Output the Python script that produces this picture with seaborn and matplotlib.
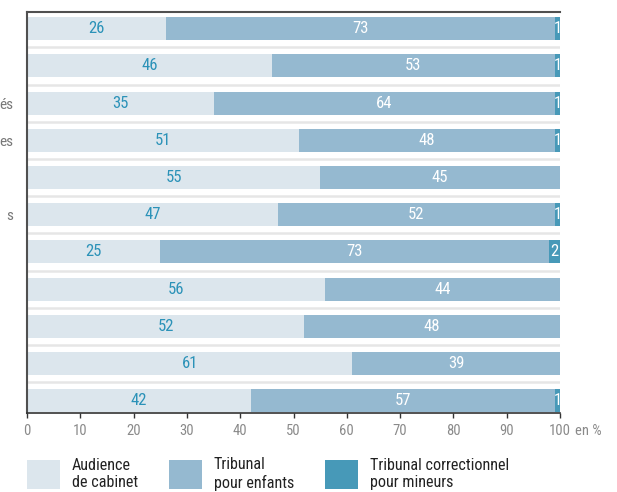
import matplotlib
matplotlib.use("Agg")
import matplotlib.pyplot as plt
from matplotlib.patches import Patch
import seaborn as sns
import pandas as pd

# One horizontal bar per row; only the tails of the row names fit on the page
row_ids = [f"r{i}" for i in range(1, 12)]
row_labels = ["", "", "és", "es", "", "s", "", "", "", "", ""]

# Share of each jurisdiction, in %
audience_cabinet = [26, 46, 35, 51, 55, 47, 25, 56, 52, 61, 42]
tribunal_enfants = [73, 53, 64, 48, 45, 52, 73, 44, 48, 39, 57]
tribunal_correctionnel = [1, 1, 1, 1, 0, 1, 2, 0, 0, 0, 1]

series_labels = ["Audience\nde cabinet", "Tribunal\npour enfants",
                 "Tribunal correctionnel\npour mineurs"]
series_colors = ["#dce6ed", "#95b9d0", "#4799b8"]
value_colors = ["#2b92b8", "#ffffff", "#ffffff"]
x_ticks = list(range(0, 101, 10))

sns.set_theme(style="white")
plt.rcParams["font.family"] = ["Roboto Condensed", "Roboto", "DejaVu Sans"]

df = pd.DataFrame({
    "ligne": row_ids,
    "cabinet": audience_cabinet,
    "enfants": tribunal_enfants,
    "correctionnel": tribunal_correctionnel,
})
df["cum1"] = df["cabinet"]
df["cum2"] = df["cabinet"] + df["enfants"]
df["cum3"] = df["cum2"] + df["correctionnel"]

fig = plt.figure(figsize=(6.17, 4.92), dpi=100)
ax = fig.add_axes([27 / 617, 1 - 413 / 492, 533 / 617, 401 / 492])

# Stacked bars: draw cumulative totals from the widest down
for col, color in zip(["cum3", "cum2", "cum1"], series_colors[::-1]):
    sns.barplot(data=df, x=col, y="ligne", color=color, saturation=1,
                width=0.62, linewidth=0, errorbar=None, ax=ax, zorder=2)

# Value labels centred in each segment
segments = ["cabinet", "enfants", "correctionnel"]
for i, row in df.iterrows():
    start = 0
    for seg, tcol in zip(segments, value_colors):
        v = row[seg]
        if v > 0:
            ax.text(start + v / 2, i, f"{v}", ha="center", va="center",
                    color=tcol, fontsize=12, zorder=3)
        start += v

# Thin separators between rows
for k in range(len(row_ids) - 1):
    ax.axhline(k + 0.5, color="#e6e6e6", lw=1.8, zorder=1)

ax.set_xlim(0, 100)
ax.set_ylim(len(row_ids) - 1 + 0.33, -0.45)
ax.set_xticks(x_ticks)
ax.set_xticklabels([str(t) for t in x_ticks])
ax.set_xlabel("")
ax.set_ylabel("")

ax.set_yticks(range(len(row_ids)))
ax.set_yticklabels(row_labels, ha="right", color="#777777", fontsize=11)
ax.tick_params(axis="y", left=False, length=0, pad=10)
ax.tick_params(axis="x", bottom=True, length=3.6, width=1, color="#333333",
               labelcolor="#8a8a8a", labelsize=10.5, pad=4)

for side in ["top", "left"]:
    ax.spines[side].set_color("#505050")
    ax.spines[side].set_linewidth(1.5)
ax.spines["bottom"].set_color("#333333")
ax.spines["bottom"].set_linewidth(1.2)
ax.spines["right"].set_visible(False)

ax.annotate("en %", xy=(1, 0), xycoords="axes fraction", xytext=(10.5, -7.6),
            textcoords="offset points", ha="left", va="top",
            color="#8a8a8a", fontsize=10.5)

handles = [Patch(facecolor=c, edgecolor="none", label=l)
           for c, l in zip(series_colors, series_labels)]
fig.legend(handles=handles, loc="upper left",
           bbox_to_anchor=(27 / 617, 1 - 457 / 492), ncol=3, frameon=False,
           fontsize=11.6, handlelength=2.05, handleheight=2.4,
           handletextpad=0.75, columnspacing=1.9, borderpad=0,
           borderaxespad=0, labelcolor="#222222")

fig.savefig("out.png", dpi=100)
